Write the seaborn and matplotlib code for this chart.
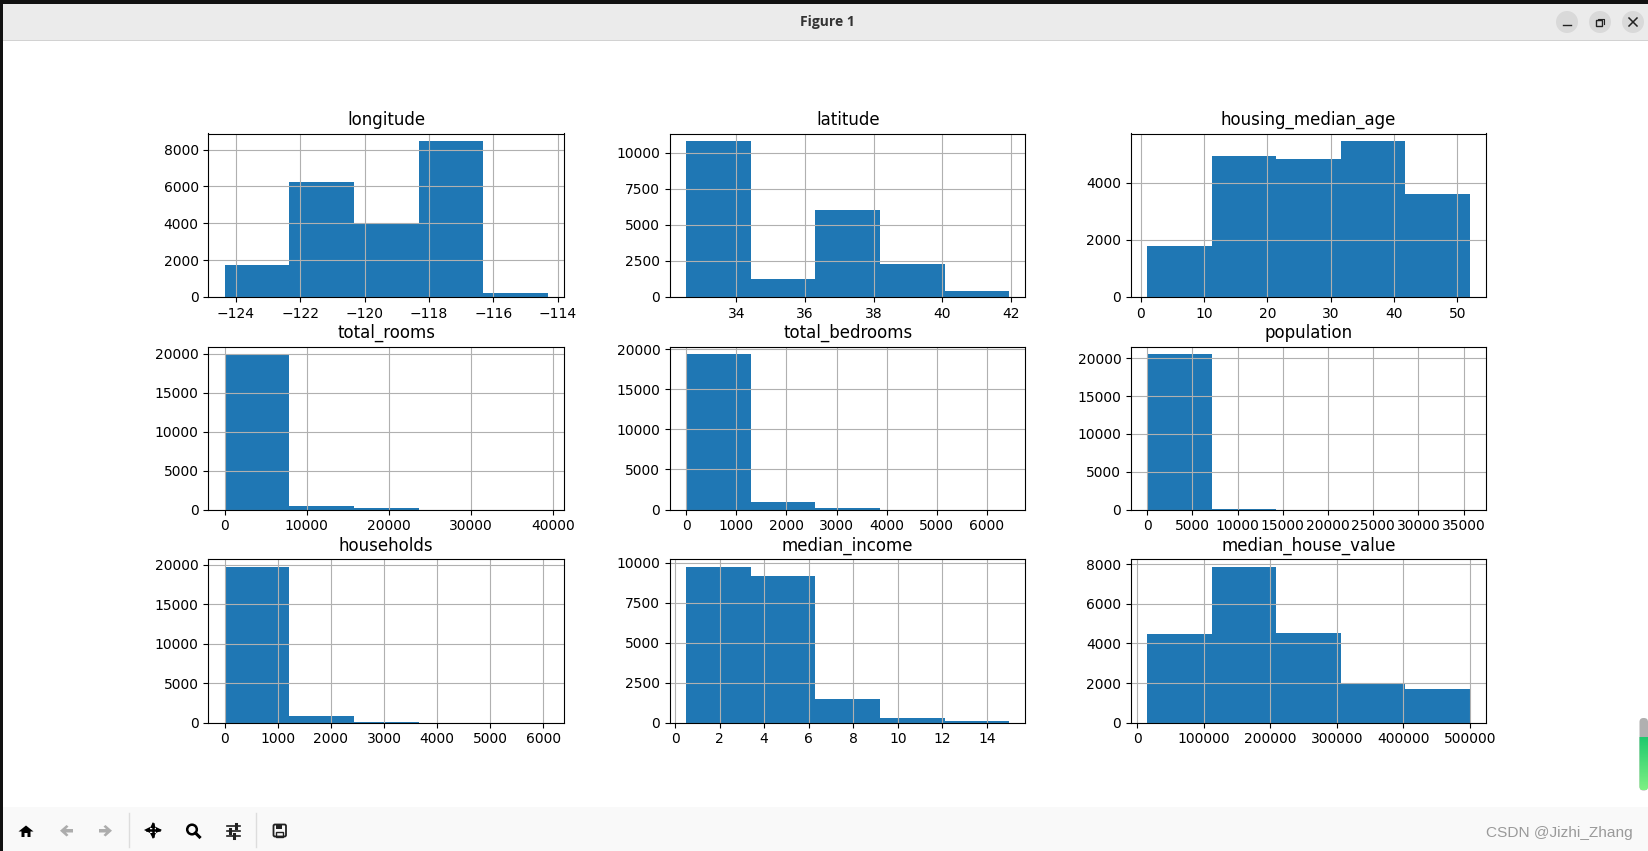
"""
plot.py
Histograms of the housing columns, inside a copy of the plot window.
"""

import matplotlib
matplotlib.use('Agg')

import matplotlib.pyplot as plt
import numpy as np
import seaborn as sns
from matplotlib.colors import LinearSegmentedColormap
from matplotlib.patches import Circle, FancyBboxPatch, Polygon, Rectangle

WIDTH, HEIGHT = 1649, 851
BAR_COLOR = '#1f77b4'

column_names = [
    'longitude', 'latitude', 'housing_median_age',
    'total_rooms', 'total_bedrooms', 'population',
    'households', 'median_income', 'median_house_value',
]

# the tail bins that don't show in the picture are read as 0
longitude = [1750, 6240, 4000, 8450, 220]
latitude = [10800, 1250, 6000, 2280, 390]
housing_median_age = [1800, 4920, 4830, 5450, 3600]
total_rooms = [19920, 510, 150, 0, 0]
total_bedrooms = [19400, 900, 130, 0, 0]
population = [20560, 130, 0, 0, 0]
households = [19700, 830, 90, 0, 0]
median_income = [9730, 9170, 1480, 290, 100]
median_house_value = [4480, 7850, 4550, 2000, 1720]

column_counts = [
    longitude, latitude, housing_median_age,
    total_rooms, total_bedrooms, population,
    households, median_income, median_house_value,
]

# lowest and highest value of each column
column_ranges = [
    (-124.35, -114.31), (32.54, 41.95), (1, 52),
    (2, 39320), (1, 6445), (3, 35682),
    (1, 6082), (0.4999, 15.0001), (14999, 500001),
]

# axes boxes in pixels
col_left = [208.5, 670, 1131]
col_right = [564, 1025.5, 1486]
row_top = [133.5, 346.5, 559.3]
row_bottom = [297, 509.5, 722.7]


def draw_window(fig):
    """Title bar, tool bar and the other bits around the figure."""
    bg = fig.add_axes([0, 0, 1, 1], zorder=5)
    bg.axis('off')
    bg.patch.set_alpha(0)

    bg.add_patch(Rectangle((0, 4), WIDTH, 36, color='#ebebeb', lw=0))
    bg.add_patch(Rectangle((0, 40), WIDTH, 1, color='#d2d2d2', lw=0))
    bg.add_patch(Rectangle((0, 807), WIDTH, 44, color='#f9f9f9', lw=0))
    bg.add_patch(Rectangle((0, 0), WIDTH, 4, color='#111111', lw=0))
    bg.add_patch(Rectangle((0, 0), 3, HEIGHT, color='#111111', lw=0))

    bg.text(827, 22, 'Figure 1', ha='center', va='center', family='Open Sans',
            fontsize=10, fontweight='bold', color='#333333')

    for x in [1567, 1600, 1633]:
        bg.add_patch(Circle((x, 22), 11, color='#d9d9d9', lw=0))
    bg.plot([1563, 1571], [25, 25], color='#222222', lw=1)
    bg.add_patch(Rectangle((1596.5, 20), 6, 6, fill=False, ec='#222222', lw=1))
    bg.plot([1598.5, 1598.5, 1604, 1604], [20, 18.5, 18.5, 24], color='#222222', lw=0.8)
    bg.plot([1629, 1637], [18, 26], color='#222222', lw=1.1)
    bg.plot([1629, 1637], [26, 18], color='#222222', lw=1.1)

    # tool bar icons
    for x in [129.5, 256]:
        bg.plot([x, x], [813, 847], color='#dddddd', lw=1)

    bg.add_patch(Polygon([(26, 825.5), (33.5, 831.5), (30.5, 831.5), (30.5, 837),
                          (27.5, 837), (27.5, 833), (24.5, 833), (24.5, 837),
                          (21.5, 837), (21.5, 831.5), (18.5, 831.5)], color='black', lw=0))

    for tip, sign in [(60, 1), (112, -1)]:
        bg.add_patch(Polygon([(tip, 830.7), (tip + sign * 6.5, 825), (tip + sign * 8.5, 826.5),
                              (tip + sign * 6, 829), (tip + sign * 13, 829),
                              (tip + sign * 13, 832.5), (tip + sign * 6, 832.5),
                              (tip + sign * 8.5, 835), (tip + sign * 6.5, 836.5)],
                             color='#adadad', lw=0))

    bg.plot([147, 159], [830, 830], color='black', lw=1.8)
    bg.plot([153, 153], [824, 836], color='black', lw=1.8)
    for x, y, mark in [(147, 830, '<'), (159, 830, '>'), (153, 824.5, '^'), (153, 835.5, 'v')]:
        bg.plot([x], [y], marker=mark, color='black', ms=5, mew=0)

    bg.add_patch(Circle((192, 829.5), 4.8, fill=False, ec='black', lw=1.8))
    bg.plot([195.5, 199.5], [833, 837], color='black', lw=2.2)

    for y, x in zip([826, 831, 836], [236, 230, 234]):
        bg.plot([227, 240], [y, y], color='#222222', lw=1.2)
        bg.plot([x, x], [y - 1.8, y + 1.8], color='#222222', lw=2.2)

    bg.add_patch(FancyBboxPatch((273.5, 824.5), 12.5, 12, boxstyle='round,pad=0,rounding_size=1.5',
                                fill=False, ec='#222222', lw=1.3))
    bg.add_patch(Rectangle((276.5, 824.5), 6, 4, color='#222222', lw=0))
    bg.add_patch(Rectangle((276, 831.5), 7.5, 5, fill=False, ec='#222222', lw=1))

    # little volume bar on the right edge
    bg.add_patch(FancyBboxPatch((1639.5, 718), 8.5, 72.5, boxstyle='round,pad=0,rounding_size=4',
                                color='#b0b0b0', lw=0))
    shade = np.linspace(0, 1, 40).reshape(-1, 1)
    green = bg.imshow(shade, extent=(1639.5, 1648, 790.5, 738), aspect='auto', zorder=3,
                      cmap=LinearSegmentedColormap.from_list('bar', ['#1fca6e', '#7df083']))
    green.set_clip_path(FancyBboxPatch((1639.5, 730), 8.5, 60.5,
                                       boxstyle='round,pad=0,rounding_size=4',
                                       transform=bg.transData))

    bg.text(1486, 833, 'CSDN @Jizhi_Zhang', ha='left', va='center', fontsize=11.1,
            family='Liberation Sans', color='#9a9a9a')

    bg.set_xlim(0, WIDTH)
    bg.set_ylim(HEIGHT, 0)


fig = plt.figure(figsize=(WIDTH / 100, HEIGHT / 100), dpi=100, facecolor='white')

for i, name in enumerate(column_names):
    r, c = divmod(i, 3)
    box = [col_left[c] / WIDTH, 1 - row_bottom[r] / HEIGHT,
           (col_right[c] - col_left[c]) / WIDTH, (row_bottom[r] - row_top[r]) / HEIGHT]
    ax = fig.add_axes(box)

    low, high = column_ranges[i]
    counts = column_counts[i]
    step = (high - low) / len(counts)
    centers = [low + step * (k + 0.5) for k in range(len(counts))]
    sns.histplot(x=centers, weights=counts, bins=len(counts), binrange=(low, high), ax=ax,
                 color=BAR_COLOR, alpha=1, linewidth=0)
    ax.set_title(name)
    ax.set_xlabel('')
    ax.set_ylabel('')
    ax.grid(True)

draw_window(fig)

fig.savefig('out.png', dpi=100)
plt.close(fig)
